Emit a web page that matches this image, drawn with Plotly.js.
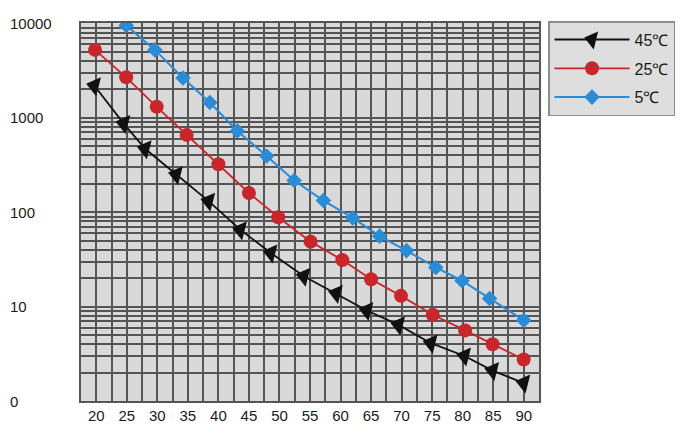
<!DOCTYPE html>
<html><head><meta charset="utf-8">
<script src="https://cdn.plot.ly/plotly-3.0.1.min.js"></script>
<style>html,body{margin:0;padding:0;background:#fff}</style>
</head><body><div id="chart" style="width:690px;height:435px"></div>
<script>
// Series names
const seriesNames = ['45℃', '25℃', '5℃'];

// 45℃ (black triangles)
const x45 = [19.7, 24.5, 28.0, 33.1, 38.4, 43.6, 48.6, 54.0, 59.3, 64.3, 69.5, 74.8, 80.3, 84.9, 90.0];
const y45 = [2190, 870, 470, 250, 131, 65, 37, 21, 13.8, 9.1, 6.4, 4.1, 3.0, 2.1, 1.55];

// 25℃ (red circles)
const x25 = [19.8, 24.9, 29.9, 34.8, 40.0, 45.0, 49.8, 55.1, 60.3, 65.0, 69.9, 75.1, 80.4, 84.9, 90.0];
const y25 = [5250, 2690, 1310, 660, 322, 160, 88.5, 48.8, 31.1, 19.5, 13.0, 8.2, 5.6, 4.0, 2.75];

// 5℃ (blue diamonds)
const x5 = [24.9, 29.6, 34.2, 38.6, 43.1, 47.9, 52.4, 57.2, 62.0, 66.4, 70.8, 75.6, 79.9, 84.4, 90.0];
const y5 = [9520, 5250, 2640, 1455, 727, 395, 217, 133, 87, 55.8, 39.2, 26.0, 18.8, 12.2, 7.15];

// Tick labels
const xTickLabels = [20, 25, 30, 35, 40, 45, 50, 55, 60, 65, 70, 75, 80, 85, 90];
const yLabelVals = [1, 10, 100, 1000, 10000];
const yLabelText = ['0', '10', '100', '1000', '10000'];

const gridColor = '#555555';
const font = 'Liberation Sans, Arial, sans-serif';

// x grid every 2.5, labels at every 5
const xGrid = [], xGridText = [];
for (let v = 17.5; v <= 92.5 + 1e-9; v += 2.5) {
  xGrid.push(v);
  xGridText.push(xTickLabels.includes(v) ? String(v) : '');
}
// y grid at 1..9 x each decade
const yGrid = [];
for (let d = 1; d < 10000; d *= 10) for (let k = 1; k <= 9; k++) yGrid.push(k * d);
yGrid.push(10000);

const traces = [
  {x: x45, y: y45, name: seriesNames[0], mode: 'lines+markers', type: 'scatter', legendgroup: 'a',
   line: {color: '#111111', width: 1.8},
   marker: {symbol: 'triangle-up', size: 17, color: '#111111', angle: -76}},
  {x: x25, y: y25, name: seriesNames[1], mode: 'lines+markers', type: 'scatter', legendgroup: 'b',
   line: {color: '#c9262b', width: 1.8},
   marker: {symbol: 'circle', size: 14, color: '#c9262b'}},
  {x: x5, y: y5, name: seriesNames[2], mode: 'lines+markers', type: 'scatter', legendgroup: 'c',
   line: {color: '#2a8bd6', width: 2},
   marker: {symbol: 'diamond', size: 12, color: '#2a8bd6'}}
];

const annotations = yLabelVals.map((v, i) => ({
  xref: 'paper', yref: 'y', x: -0.159, y: Math.log10(v), xanchor: 'left', yanchor: 'middle',
  text: yLabelText[i], showarrow: false, font: {family: font, size: 15, color: '#1a1a1a'}
}));

const layout = {
  width: 690, height: 435,
  margin: {l: 81, r: 151, t: 23, b: 34, pad: 0},
  paper_bgcolor: '#ffffff', plot_bgcolor: '#d9d9d9',
  font: {family: font, size: 15, color: '#1a1a1a'},
  showlegend: true,
  legend: {x: 1.0197, y: 1.005, xanchor: 'left', yanchor: 'top',
    bgcolor: '#dedede', bordercolor: '#8c8c8c', borderwidth: 1.5,
    traceorder: 'grouped', tracegroupgap: 5,
    font: {family: font, size: 16, color: '#1a1a1a'}, itemwidth: 75},
  xaxis: {type: 'linear', range: [17.5, 92.5], tickmode: 'array', tickvals: xGrid, ticktext: xGridText,
    showgrid: true, gridcolor: gridColor, gridwidth: 2, zeroline: false,
    showline: true, mirror: true, linecolor: gridColor, linewidth: 2, ticks: '',
    tickfont: {family: font, size: 15, color: '#1a1a1a'}},
  yaxis: {type: 'log', range: [0, 4.005], tickmode: 'array', tickvals: yGrid,
    showticklabels: false, showgrid: true, gridcolor: gridColor, gridwidth: 2, zeroline: false,
    showline: true, mirror: true, linecolor: gridColor, linewidth: 2, ticks: ''},
  annotations: annotations
};

Plotly.newPlot('chart', traces, layout, {displayModeBar: false, staticPlot: true});
</script></body></html>
